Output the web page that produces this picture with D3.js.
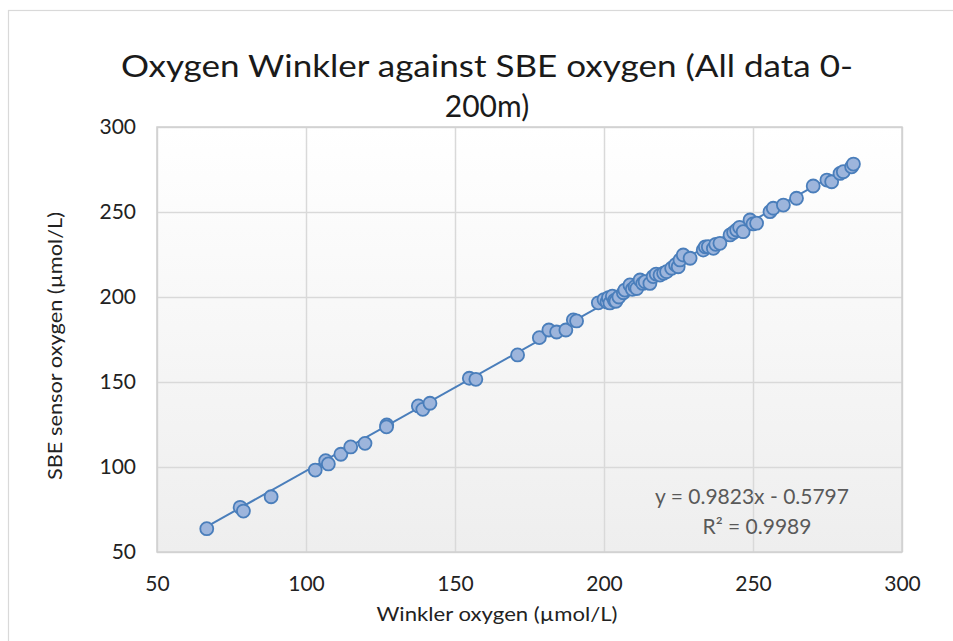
<!DOCTYPE html>
<html>
<head>
<meta charset="utf-8">
<script src="https://cdn.jsdelivr.net/npm/d3@7"></script>
<style>
  html, body { margin: 0; padding: 0; background: #ffffff; }
  svg { display: block; }
  text { font-family: Lato, "Open Sans", "Noto Sans", sans-serif; }
</style>
</head>
<body>
<svg id="chart" width="953" height="641"></svg>
<script>
// Winkler titration oxygen (µmol/L), one value per bottle
const winkler = [
  66.7, 77.9, 79.0, 88.3, 103.1, 106.6, 107.5, 111.7, 115.0, 119.8,
  127.1, 127.0, 137.7, 139.2, 141.6, 154.8, 157.0, 171.0, 178.3, 181.5,
  184.1, 187.2, 189.7, 190.8, 198.1, 200.0, 201.0, 201.5, 202.0, 202.8,
  203.5, 204.0, 205.0, 206.5, 207.0, 208.7, 209.5, 210.4, 211.0, 212.1,
  213.0, 213.8, 215.4, 216.5, 217.5, 218.8, 220.0, 221.0, 222.7, 224.0,
  224.9, 225.5, 226.6, 228.9, 233.3, 234.0, 235.0, 236.7, 237.5, 238.9,
  242.3, 243.5, 244.5, 245.5, 246.7, 249.0, 250.0, 251.2, 255.7, 256.8,
  260.2, 264.6, 270.2, 274.8, 276.4, 279.2, 280.3, 283.1, 283.7
];
// SBE sensor oxygen (µmol/L) at the same bottles
const sbe = [
  63.7, 76.3, 74.1, 82.5, 98.2, 103.7, 101.8, 107.5, 111.8, 113.9,
  124.7, 123.6, 135.9, 133.9, 137.5, 152.2, 151.6, 165.9, 176.1, 180.6,
  179.4, 180.6, 186.5, 185.9, 196.6, 198.5, 197.0, 199.6, 196.5, 200.5,
  198.0, 197.5, 200.0, 202.5, 204.1, 207.1, 204.5, 206.1, 205.0, 210.0,
  208.0, 209.0, 208.0, 212.0, 213.5, 212.9, 214.0, 214.9, 216.9, 219.0,
  217.8, 221.8, 224.7, 222.8, 227.6, 229.5, 229.6, 228.6, 231.0, 231.6,
  236.5, 238.0, 239.4, 241.0, 238.4, 245.3, 243.0, 243.4, 250.2, 252.2,
  254.1, 258.1, 265.3, 268.8, 267.8, 272.7, 273.7, 276.6, 278.2
];
const xTicks = [50, 100, 150, 200, 250, 300];
const yTicks = [50, 100, 150, 200, 250, 300];
// Linear fit reported on the chart
const slope = 0.9823;
const intercept = -0.5797;
const rSquared = 0.9989;

const titleLines = ["Oxygen Winkler against SBE oxygen (All data 0-", "200m)"];
const xTitle = "Winkler oxygen (µmol/L)";
const yTitle = "SBE sensor oxygen (µmol/L)";

const svg = d3.select("#chart");
const plot = { left: 157, right: 902, top: 127, bottom: 552 };

const x = d3.scaleLinear().domain([50, 300]).range([plot.left, plot.right]);
const y = d3.scaleLinear().domain([50, 300]).range([plot.bottom, plot.top]);

// chart frame
svg.append("rect")
  .attr("x", 8.5).attr("y", 10.5)
  .attr("width", 980).attr("height", 660)
  .attr("fill", "#ffffff")
  .attr("stroke", "#d9d9d9").attr("stroke-width", 1.2);

// plot-area background shading
const defs = svg.append("defs");
const grad = defs.append("linearGradient")
  .attr("id", "plotShade").attr("x1", 0).attr("y1", 0).attr("x2", 0).attr("y2", 1);
grad.append("stop").attr("offset", "0%").attr("stop-color", "#ffffff");
grad.append("stop").attr("offset", "100%").attr("stop-color", "#eeeeee");

svg.append("rect")
  .attr("x", plot.left).attr("y", plot.top)
  .attr("width", plot.right - plot.left).attr("height", plot.bottom - plot.top)
  .attr("fill", "url(#plotShade)");

// gridlines
svg.append("g")
  .attr("transform", `translate(0,${plot.bottom})`)
  .call(d3.axisBottom(x).tickValues(xTicks).tickSize(-(plot.bottom - plot.top)).tickFormat(""))
  .call(g => g.select(".domain").remove())
  .call(g => g.selectAll("line").attr("stroke", "#d9d9d9").attr("stroke-width", 1.5));

svg.append("g")
  .attr("transform", `translate(${plot.left},0)`)
  .call(d3.axisLeft(y).tickValues(yTicks).tickSize(-(plot.right - plot.left)).tickFormat(""))
  .call(g => g.select(".domain").remove())
  .call(g => g.selectAll("line").attr("stroke", "#d9d9d9").attr("stroke-width", 1.5));

// plot-area border
svg.append("rect")
  .attr("x", plot.left).attr("y", plot.top)
  .attr("width", plot.right - plot.left).attr("height", plot.bottom - plot.top)
  .attr("fill", "none").attr("stroke", "#d0d0d0").attr("stroke-width", 1.5);

// tick labels
svg.append("g")
  .attr("transform", `translate(0,${plot.bottom})`)
  .call(d3.axisBottom(x).tickValues(xTicks).tickSize(0).tickPadding(24).tickFormat(d3.format("d")))
  .call(g => g.select(".domain").remove())
  .call(g => g.selectAll("text")
    .attr("font-family", "Lato, 'Open Sans', sans-serif")
    .attr("font-size", 21).attr("fill", "#222222"));

svg.append("g")
  .attr("transform", `translate(${plot.left},0)`)
  .call(d3.axisLeft(y).tickValues(yTicks).tickSize(0).tickPadding(21).tickFormat(d3.format("d")))
  .call(g => g.select(".domain").remove())
  .call(g => g.selectAll("text")
    .attr("font-family", "Lato, 'Open Sans', sans-serif")
    .attr("font-size", 21).attr("fill", "#222222"));

// trendline across the data range
const xMin = d3.min(winkler), xMax = d3.max(winkler);
svg.append("line")
  .attr("x1", x(xMin)).attr("y1", y(slope * xMin + intercept))
  .attr("x2", x(xMax)).attr("y2", y(slope * xMax + intercept))
  .attr("stroke", "#4a7ebb").attr("stroke-width", 2);

// bottle samples
const pts = winkler.map((w, i) => ({ w, s: sbe[i] }));
svg.append("g")
  .selectAll("circle")
  .data(pts)
  .join("circle")
  .attr("cx", d => x(d.w))
  .attr("cy", d => y(d.s))
  .attr("r", 6.5)
  .attr("fill", "#9db5dc")
  .attr("stroke", "#4a7ebb")
  .attr("stroke-width", 1.8);

// title
const title = svg.append("g").attr("fill", "#1a1a1a");
title.append("text")
  .attr("x", 487).attr("y", 77)
  .attr("text-anchor", "middle")
  .attr("font-size", 30)
  .attr("textLength", 732).attr("lengthAdjust", "spacingAndGlyphs")
  .text(titleLines[0]);
title.append("text")
  .attr("x", 487).attr("y", 117)
  .attr("text-anchor", "middle")
  .attr("font-size", 30)
  .text(titleLines[1]);

// axis titles
svg.append("text")
  .attr("x", 497).attr("y", 621)
  .attr("text-anchor", "middle")
  .attr("font-size", 20).attr("fill", "#222222")
  .attr("textLength", 241).attr("lengthAdjust", "spacingAndGlyphs")
  .text(xTitle);

svg.append("text")
  .attr("transform", "translate(62,346) rotate(-90)")
  .attr("text-anchor", "middle")
  .attr("font-size", 20).attr("fill", "#222222")
  .attr("textLength", 268).attr("lengthAdjust", "spacingAndGlyphs")
  .text(yTitle);

// fit equation
const fmt4 = d3.format(".4f");
const eq = svg.append("g").attr("fill", "#595959").attr("font-size", 21).attr("text-anchor", "middle");
eq.append("text")
  .attr("x", 752).attr("y", 504)
  .text(`y = ${fmt4(slope)}x - ${fmt4(Math.abs(intercept))}`);
eq.append("text")
  .attr("x", 757).attr("y", 534)
  .text(`R² = ${fmt4(rSquared)}`);
</script>
</body>
</html>
